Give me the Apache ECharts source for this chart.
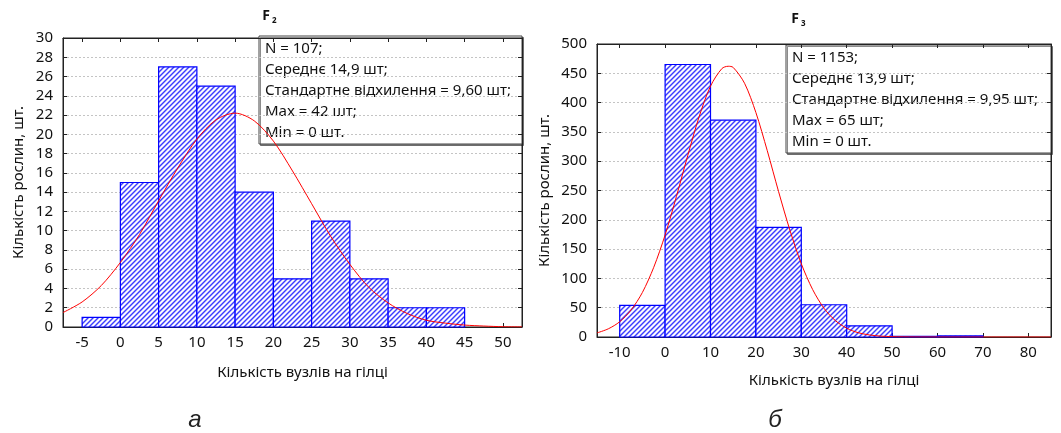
<!DOCTYPE html>
<html><head><meta charset="utf-8">
<script src="https://cdn.jsdelivr.net/npm/echarts@6/dist/echarts.min.js"></script>
<style>html,body{margin:0;padding:0;background:#fff}#c{width:1061px;height:433px}</style>
</head><body><div id="c"></div>
<script>
// ---- F2 (left chart) ----
const f2BinStart = [-5, 0, 5, 10, 15, 20, 25, 30, 35, 40];
const f2BinWidth = 5;
const f2Counts = [1, 15, 27, 25, 14, 5, 11, 5, 2, 2];
const f2CurveX = [-7.5, -5, -2.5, 0, 2.5, 5, 7.5, 10, 12.5, 15, 17.5, 20, 22.5, 25, 27.5, 30, 32.5, 35, 37.5, 40, 42.5, 45, 47.5, 50, 52.5];
const f2CurveY = [1.5, 2.6, 4.3, 6.7, 9.6, 13.1, 16.5, 19.5, 21.5, 22.2, 21.4, 19.3, 16.2, 12.8, 9.4, 6.5, 4.1, 2.5, 1.4, 0.7, 0.4, 0.2, 0.1, 0.03, 0.01];
const f2Stats = ['N = 107;', 'Середнє 14,9 шт;', 'Стандартне відхилення = 9,60 шт;', 'Max = 42 шт;', 'Min = 0 шт.'];

// ---- F3 (right chart) ----
const f3BinStart = [-10, 0, 10, 20, 30, 40, 50, 60];
const f3BinWidth = 10;
const f3Counts = [54, 465, 370, 187, 55, 19, 1, 2];
const f3CurveX = [-15, -12.5, -10, -7.5, -5, -2.5, 0, 2.5, 5, 7.5, 10, 12.5, 13.9, 15, 17.5, 20, 22.5, 25, 27.5, 30, 32.5, 35, 37.5, 40, 42.5, 45, 47.5, 50, 55, 60, 70, 85];
const f3CurveY = [7, 14, 26, 46, 76, 119, 174, 240, 310, 376, 428, 458, 462, 460, 433, 383, 318, 248, 182, 125, 81, 49, 28, 15, 7.4, 3.5, 1.5, 0.6, 0.1, 0, 0, 0];
const f3Stats = ['N = 1153;', 'Середнє 13,9 шт;', 'Стандартне відхилення = 9,95 шт;', 'Max = 65 шт;', 'Min = 0 шт.'];

const xName = 'Кількість вузлів на гілці';
const yName = 'Кількість рослин, шт.';
const panelLabels = ['а', 'б'];

const FONT = 'Noto Sans';

function makePattern() {
  const n = 5;
  const c = document.createElement('canvas');
  c.width = n; c.height = n;
  const g = c.getContext('2d');
  const img = g.createImageData(n, n);
  const cols = [[60, 60, 255], [155, 155, 255], [248, 248, 255], [252, 252, 255], [155, 155, 255]];
  for (let y = 0; y < n; y++) for (let x = 0; x < n; x++) {
    const k = (x + y) % n, i = (y * n + x) * 4;
    img.data[i] = cols[k][0]; img.data[i + 1] = cols[k][1]; img.data[i + 2] = cols[k][2]; img.data[i + 3] = 255;
  }
  g.putImageData(img, 0, 0);
  return c;
}
const pattern = { image: makePattern(), repeat: 'repeat' };

const bars = (s, w, v) => s.map((x, i) => [x, x + w, v[i]]);
const curve = (xs, ys) => xs.map((x, i) => [x, ys[i]]);

function renderBar(params, api) {
  const p0 = api.coord([api.value(0), api.value(2)]);
  const p1 = api.coord([api.value(1), 0]);
  return {
    type: 'rect',
    shape: { x: p0[0], y: p0[1], width: p1[0] - p0[0], height: p1[1] - p0[1] },
    style: { fill: pattern, stroke: '#0000ff', lineWidth: 1.2 }
  };
}

const chart = echarts.init(document.getElementById('c'), null, { renderer: 'canvas' });

const tickLab = { color: '#111', fontSize: 15, fontFamily: FONT };
const line = { show: true, onZero: false, lineStyle: { color: '#222', width: 1 } };
const tick = { show: true, inside: true, length: 4, lineStyle: { color: '#222' } };
function xMain(grid, min, max, split, step, gap) {
  return {
    gridIndex: grid, type: 'value', min: min, max: max, splitNumber: split,
    axisLine: line, axisTick: tick,
    axisLabel: Object.assign({ margin: 8, showMinLabel: false, showMaxLabel: false,
      formatter: v => (Math.abs(v % step) < 1e-9 ? String(v) : '') }, tickLab),
    splitLine: { show: false },
    name: xName, nameLocation: 'middle', nameGap: gap,
    nameTextStyle: { color: '#111', fontSize: 15, fontFamily: FONT, padding: [0, 0, 0, 20] }
  };
}
function xTop(grid, min, max, split) {
  return {
    gridIndex: grid, type: 'value', min: min, max: max, splitNumber: split, position: 'top',
    axisLine: line, axisTick: tick, axisLabel: { show: false }, splitLine: { show: false }
  };
}
function yMain(grid, max, interval, gap) {
  return {
    gridIndex: grid, type: 'value', min: 0, max: max, interval: interval,
    axisLine: line, axisTick: tick,
    axisLabel: Object.assign({ margin: 10 }, tickLab),
    splitLine: { show: true, lineStyle: { color: '#c4c4c4', type: [2, 2], width: 1 } },
    name: yName, nameLocation: 'middle', nameGap: gap,
    nameTextStyle: { color: '#111', fontSize: 15, fontFamily: FONT }
  };
}
function yRight(grid, max, interval) {
  return {
    gridIndex: grid, type: 'value', min: 0, max: max, interval: interval, position: 'right',
    axisLine: line, axisTick: tick, axisLabel: { show: false }, splitLine: { show: false }
  };
}

function statBox(x, y, w, h, lines) {
  const children = [{
    type: 'rect', shape: { x: x, y: y, width: w, height: h },
    style: { fill: '#fff', stroke: '#444', lineWidth: 1, shadowColor: 'rgba(0,0,0,0.45)', shadowOffsetX: 1.5, shadowOffsetY: 1.5, shadowBlur: 0 }
  }];
  lines.forEach((t, i) => children.push({
    type: 'text', x: x + 6, y: y + 13 + i * 21,
    style: { text: t, fill: '#111', font: '15px "' + FONT + '"', textVerticalAlign: 'middle', textAlign: 'left' }
  }));
  return { type: 'group', z: 100, children: children };
}
function titleF(cx, cy, sub) {
  return { type: 'group', z: 100, children: [
    { type: 'text', x: cx - 4, y: cy, style: { text: 'F', fill: '#111', font: 'bold 14px "' + FONT + '"', textAlign: 'center', textVerticalAlign: 'middle' } },
    { type: 'text', x: cx + 2, y: cy + 5, style: { text: sub, fill: '#111', font: 'bold 8px "' + FONT + '"', textAlign: 'left', textVerticalAlign: 'middle' } }
  ] };
}

chart.setOption({
  animation: false,
  backgroundColor: '#fff',
  grid: [
    { left: 63, top: 38, width: 459, height: 289, show: true, borderColor: '#222', borderWidth: 1, backgroundColor: 'transparent' },
    { left: 597, top: 44, width: 454, height: 293, show: true, borderColor: '#222', borderWidth: 1, backgroundColor: 'transparent' }
  ],
  xAxis: [
    xMain(0, -7.5, 52.5, 12, 5, 38),
    xTop(0, -7.5, 52.5, 12),
    xMain(1, -15, 85, 10, 10, 36),
    xTop(1, -15, 85, 10)
  ],
  yAxis: [
    yMain(0, 30, 2, 37),
    yRight(0, 30, 2),
    yMain(1, 500, 50, 45),
    yRight(1, 500, 50)
  ],
  series: [
    { type: 'custom', xAxisIndex: 0, yAxisIndex: 0, renderItem: renderBar, data: bars(f2BinStart, f2BinWidth, f2Counts), z: 2 },
    { type: 'line', xAxisIndex: 0, yAxisIndex: 0, data: curve(f2CurveX, f2CurveY), smooth: 0.3, showSymbol: false, symbol: 'none', lineStyle: { color: '#ff0000', width: 1 }, z: 3 },
    { type: 'custom', xAxisIndex: 2, yAxisIndex: 2, renderItem: renderBar, data: bars(f3BinStart, f3BinWidth, f3Counts), z: 2 },
    { type: 'line', xAxisIndex: 2, yAxisIndex: 2, data: curve(f3CurveX, f3CurveY), smooth: 0.3, showSymbol: false, symbol: 'none', lineStyle: { color: '#ff0000', width: 1 }, z: 3 }
  ],
  graphic: [
    titleF(270, 16, '2'),
    titleF(799, 19, '3'),
    statBox(259, 36, 263, 108, f2Stats),
    statBox(786, 45, 265, 108, f3Stats),
    { type: 'text', x: 195, y: 420, style: { text: panelLabels[0], fill: '#222', font: 'italic 24px "Liberation Sans"', textAlign: 'center', textVerticalAlign: 'middle' } },
    { type: 'text', x: 775, y: 420, style: { text: panelLabels[1], fill: '#222', font: 'italic 24px "Liberation Sans"', textAlign: 'center', textVerticalAlign: 'middle' } }
  ]
});
</script>
</body></html>
